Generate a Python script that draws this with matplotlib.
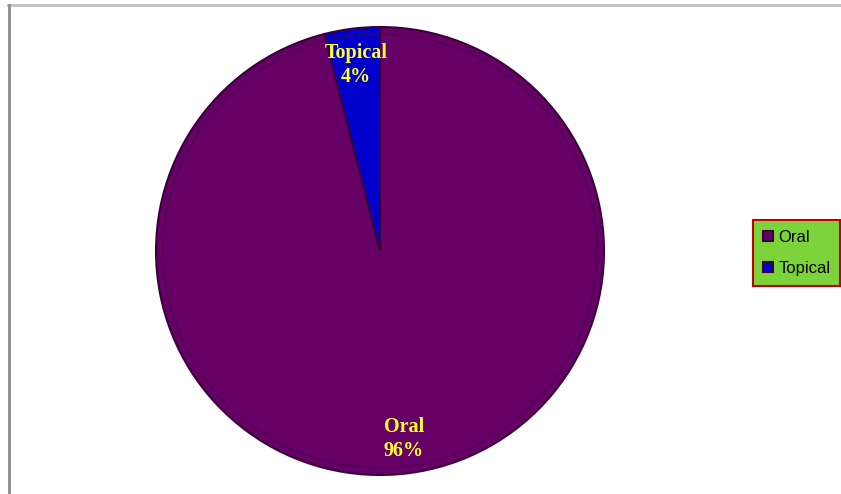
import matplotlib
matplotlib.use('Agg')
from matplotlib import pyplot as plt
from matplotlib.lines import Line2D
from matplotlib.patches import Circle

# datos del gráfico
categories = ['Oral', 'Topical']
percents = [96, 4]
colors = ['#660066', '#0000CC']

W, H = 841, 494
fig = plt.figure(figsize=(W / 100, H / 100), dpi=100)
ax = fig.add_axes([0, 0, 1, 1])

# marco del área del gráfico (solo arriba e izquierda visibles)
fig.add_artist(Line2D([8 / W, 1], [1 - 5 / H, 1 - 5 / H], color='#BFBFBF', lw=2))
fig.add_artist(Line2D([9 / W, 9 / W], [0, 1 - 5 / H], color='#8C8C8C', lw=2))

cx, cy, r = 380, H - 251, 224
labels = [f'{c}\n{p}%' for c, p in zip(categories, percents)]
wedges, texts = ax.pie(percents, labels=labels, colors=colors, startangle=90,
                       counterclock=False, center=(cx, cy), radius=r,
                       explode=[0, 0.01], labeldistance=0.85, frame=True,
                       wedgeprops=dict(edgecolor='#3a003a', linewidth=1.5))
# un anillo oscuro para imitar el bisel
ax.add_patch(Circle((cx, cy), r - 7, fill=False, edgecolor='#4a004a', lw=1.2, alpha=0.6))
ax.set_xlim(0, W)
ax.set_ylim(0, H)
ax.set_aspect('equal')
ax.axis('off')

for t in texts:
    t.set_family('Liberation Serif')
    t.set_fontweight('bold')
    t.set_fontsize(14.5)
    t.set_color('#FFFF33')
    t.set_ha('center')
    t.set_va('center')
    t.set_linespacing(1.3)

# ajuste fino de la posición vertical de las etiquetas
x, y = texts[0].get_position()
texts[0].set_position((x, y + 1))
x, y = texts[1].get_position()
texts[1].set_position((x, y - 3))

# leyenda
leg = fig.legend(wedges, categories, loc='center',
                 bbox_to_anchor=(753 / W, 1 - 288 / H, 87 / W, 70 / H),
                 prop={'family': 'Liberation Sans', 'size': 12},
                 handlelength=0.6, handleheight=0.6, handletextpad=0.35,
                 labelspacing=0.95, borderpad=0.6, borderaxespad=0, fancybox=False)
frame = leg.get_frame()
frame.set_facecolor('#7DD33A')
frame.set_edgecolor('#C00000')
frame.set_linewidth(1.5)
frame.set_alpha(1)

plt.savefig('out.png', dpi=100)
